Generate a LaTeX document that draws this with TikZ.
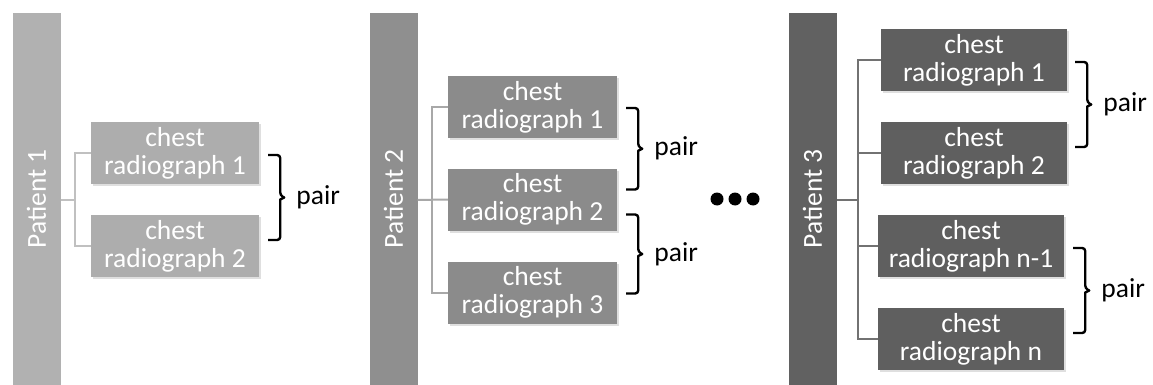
\documentclass[tikz,border=0pt]{standalone}
\usepackage{fontspec}
\setmainfont{Carlito}
\usetikzlibrary{positioning,calc,shadows}

\definecolor{barone}{HTML}{B1B1B1}
\definecolor{boxone}{HTML}{ADADAD}
\definecolor{linkone}{HTML}{C0C0C0}
\definecolor{bartwo}{HTML}{8F8F8F}
\definecolor{boxtwo}{HTML}{8B8B8B}
\definecolor{linktwo}{HTML}{A8A8A8}
\definecolor{barthree}{HTML}{616161}
\definecolor{boxthree}{HTML}{5F5F5F}
\definecolor{linkthree}{HTML}{727272}

\begin{document}
\begin{tikzpicture}[x=1pt,y=-1pt,
    bigfont/.style={font=\fontsize{27.5}{28}\selectfont},
    patient/.style={fill=#1,text=white,rotate=90,minimum width=372pt,minimum height=48pt,inner sep=0pt,bigfont},
    xray/.style={fill=#1,text=white,align=center,minimum height=62pt,inner sep=0pt,bigfont,
      drop shadow={opacity=0.25,shadow xshift=1.5pt,shadow yshift=-2pt}},
    link/.style={draw=#1,line width=2pt},
    pairbrace/.style={line width=2.4pt,line join=round,
      to path={[rounded corners=3pt] -- ++(12,0) -- ($(\tikztostart)!.5!(\tikztotarget)+(12,-2)$)
        [sharp corners] -- ($(\tikztostart)!.5!(\tikztotarget)+(16,0)$)
        -- ($(\tikztostart)!.5!(\tikztotarget)+(12,2)$)
        [rounded corners=3pt] -- ($(\tikztotarget)+(12,0)$) -- (\tikztotarget)}},
    pairlabel/.style={anchor=west,inner sep=0pt,xshift=28pt,bigfont},
    dot/.style={circle,fill=black,minimum size=13pt,inner sep=0pt}]
  \useasboundingbox (0,0) rectangle (1153,385);

  % patient 1
  \node[patient=barone] (p1) at (36.5,199) {Patient 1};
  \node[xray=boxone,minimum width=168pt] (r11) at (175,153) {chest\\radiograph 1};
  \node[xray=boxone,minimum width=168pt] (r12) at (175,246) {chest\\radiograph 2};
  \coordinate (j1) at (75,200);
  \draw[link=linkone] (p1.south |- j1) -- (j1);
  \draw[link=linkone] (r11.west) -| (j1) |- (r12.west);
  \coordinate (b1t) at ($(r11.east)+(9,2)$);
  \coordinate (b1b) at ($(r12.east)+(9,-6)$);
  \draw[pairbrace] (b1t) to (b1b);
  \node[pairlabel] (q1) at ($(b1t)!.5!(b1b)$) {pair};

  % patient 2
  \node[patient=bartwo] (p2) at (393.5,199) {Patient 2};
  \node[xray=boxtwo,minimum width=169pt] (r21) at (532.5,107) {chest\\radiograph 1};
  \node[xray=boxtwo,minimum width=169pt] (r22) at (532.5,199.5) {chest\\radiograph 2};
  \node[xray=boxtwo,minimum width=169pt] (r23) at (532.5,292.5) {chest\\radiograph 3};
  \coordinate (j2) at (432,200);
  \draw[link=linktwo] (p2.south |- j2) -- (r22.west);
  \draw[link=linktwo] (r21.west) -| (j2) |- (r23.west);
  \coordinate (b21t) at ($(r21.east)+(9,1)$);
  \coordinate (b21b) at ($(r22.east)+(9,-10)$);
  \coordinate (b22t) at ($(r22.east)+(9,15)$);
  \coordinate (b22b) at ($(r23.east)+(9,1)$);
  \draw[pairbrace] (b21t) to (b21b);
  \draw[pairbrace] (b22t) to (b22b);
  \node[pairlabel] (q21) at ($(b21t)!.5!(b21b)$) {pair};
  \node[pairlabel] (q22) at ($(b22t)!.5!(b22b)$) {pair};

  \node[dot] (d1) at (717,199) {};
  \node[dot] (d2) at (735,199) {};
  \node[dot] (d3) at (753,199) {};

  % patient 3
  \node[patient=barthree] (p3) at (812.5,199) {Patient 3};
  \node[xray=boxthree,minimum width=186pt] (r31) at (974,60) {chest\\radiograph 1};
  \node[xray=boxthree,minimum width=186pt] (r32) at (974,153) {chest\\radiograph 2};
  \node[xray=boxthree,minimum width=186pt] (r33) at (971,246) {chest\\radiograph n-1};
  \node[xray=boxthree,minimum width=186pt] (r34) at (971,339) {chest\\radiograph n};
  \coordinate (j3) at (858,200);
  \draw[link=linkthree] (p3.south |- j3) -- (j3);
  \draw[link=linkthree] (r31.west) -| (j3) |- (r34.west);
  \draw[link=linkthree] (r32.west) -| (j3);
  \draw[link=linkthree] (r33.west) -| (j3);
  \coordinate (b31t) at ($(r31.east)+(8,2)$);
  \coordinate (b31b) at ($(r32.east)+(8,-6)$);
  \coordinate (b32t) at ($(r33.east)+(9,2)$);
  \coordinate (b32b) at ($(r34.east)+(9,-6)$);
  \draw[pairbrace] (b31t) to (b31b);
  \draw[pairbrace] (b32t) to (b32b);
  \node[pairlabel] (q31) at ($(b31t)!.5!(b31b)$) {pair};
  \node[pairlabel] (q32) at ($(b32t)!.5!(b32b)$) {pair};
\end{tikzpicture}
\end{document}
